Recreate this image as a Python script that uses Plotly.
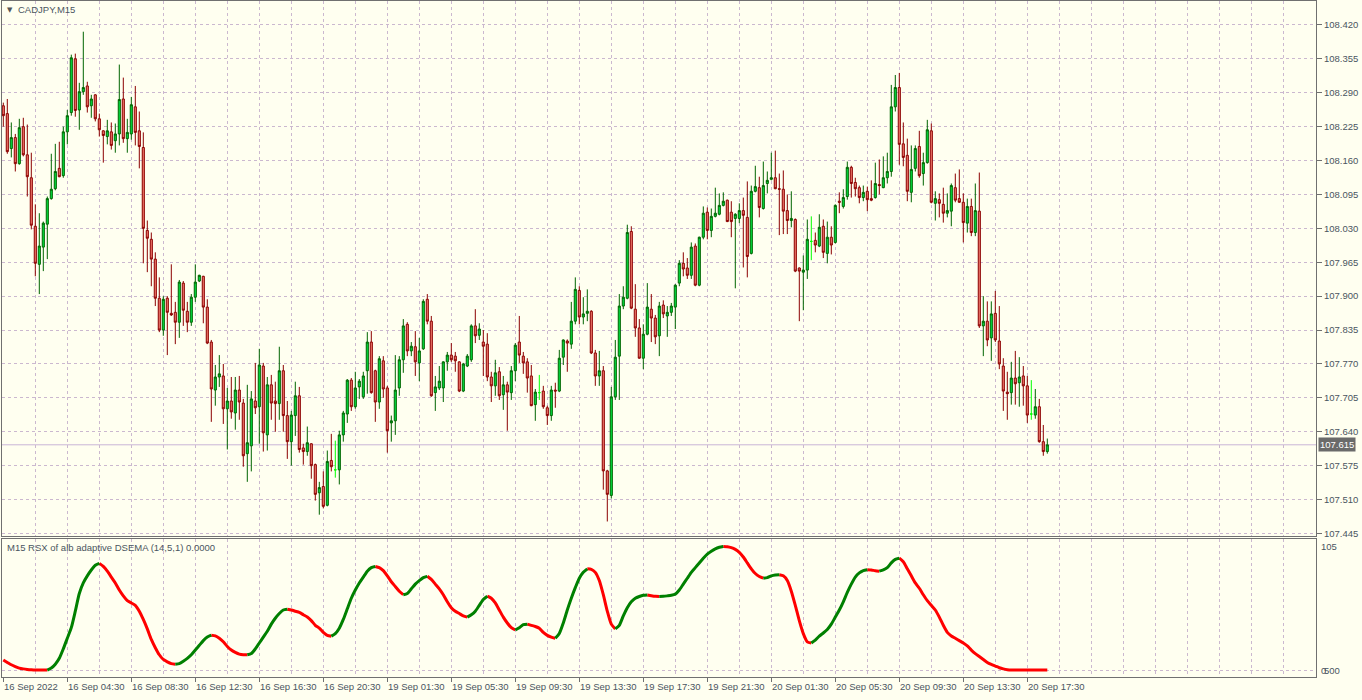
import plotly.graph_objects as go

# ---------------- data ----------------
symbol_title = "CADJPY,M15"
indicator_title = "M15 RSX of alb adaptive DSEMA (14,5,1) 0.0000"

bar_open = [
    108.265, 108.250, 108.183, 108.204, 108.154, 108.225, 108.171, 108.127, 108.034, 107.961,
    107.994, 108.038, 108.087, 108.106, 108.145, 108.131, 108.215, 108.252, 108.355, 108.257,
    108.292, 108.303, 108.265, 108.286, 108.240, 108.217, 108.206, 108.215, 108.198, 108.211,
    108.278, 108.202, 108.211, 108.263, 108.217, 108.185, 108.026, 108.009, 107.971, 107.896,
    107.835, 107.896, 107.867, 107.869, 107.850, 107.925, 107.871, 107.850, 107.898, 107.929,
    107.938, 107.879, 107.812, 107.720, 107.745, 107.747, 107.684, 107.699, 107.676, 107.720,
    107.695, 107.598, 107.613, 107.699, 107.688, 107.766, 107.634, 107.730, 107.699, 107.694,
    107.757, 107.671, 107.621, 107.671, 107.709, 107.609, 107.602, 107.617, 107.577, 107.523,
    107.535, 107.499, 107.585, 107.567, 107.567, 107.634, 107.674, 107.739, 107.688, 107.726,
    107.707, 107.757, 107.812, 107.757, 107.697, 107.776, 107.724, 107.657, 107.661, 107.724,
    107.778, 107.846, 107.795, 107.803, 107.772, 107.799, 107.894, 107.852, 107.715, 107.724,
    107.724, 107.774, 107.787, 107.785, 107.774, 107.718, 107.766, 107.778, 107.843, 107.825,
    107.812, 107.808, 107.745, 107.728, 107.755, 107.711, 107.730, 107.715, 107.757, 107.812,
    107.785, 107.774, 107.747, 107.692, 107.715, 107.718, 107.686, 107.671, 107.720, 107.718,
    107.783, 107.814, 107.808, 107.852, 107.911, 107.860, 107.867, 107.871, 107.791, 107.747,
    107.757, 107.565, 107.518, 107.707, 107.785, 107.881, 107.896, 108.024, 107.875, 107.839,
    107.781, 107.827, 107.875, 107.858, 107.824, 107.883, 107.862, 107.869, 107.879, 107.925,
    107.963, 107.954, 107.940, 107.996, 107.921, 108.013, 108.061, 108.026, 108.053, 108.057,
    108.074, 108.084, 108.061, 108.049, 108.049, 108.064, 108.051, 107.982, 108.101, 108.108,
    108.068, 108.116, 108.124, 108.127, 108.106, 108.105, 108.064, 108.045, 108.047, 107.954,
    107.946, 107.950, 108.005, 108.007, 107.996, 108.034, 107.982, 108.013, 108.003, 108.082,
    108.072, 108.091, 108.147, 108.118, 108.108, 108.089, 108.101, 108.087, 108.089, 108.114,
    108.108, 108.127, 108.139, 108.263, 108.300, 108.192, 108.170, 108.099, 108.145, 108.187,
    108.135, 108.156, 108.217, 108.078, 108.085, 108.076, 108.059, 108.063, 108.108, 108.087,
    108.080, 108.040, 108.072, 108.022, 108.063, 107.843, 107.852, 107.820, 107.867, 107.814,
    107.766, 107.716, 107.715, 107.743, 107.734, 107.747, 107.728, 107.674, 107.672, 107.688,
    107.621, 107.602,
]
bar_high = [
    108.271, 108.278, 108.233, 108.211, 108.240, 108.242, 108.229, 108.175, 108.076, 108.059,
    108.043, 108.091, 108.173, 108.192, 108.196, 108.225, 108.257, 108.363, 108.365, 108.309,
    108.407, 108.311, 108.286, 108.287, 108.250, 108.218, 108.238, 108.233, 108.231, 108.344,
    108.319, 108.240, 108.282, 108.303, 108.254, 108.214, 108.045, 108.022, 107.984, 107.936,
    107.900, 107.900, 107.961, 107.889, 107.931, 107.929, 107.889, 107.904, 107.961, 107.941,
    107.939, 107.894, 107.816, 107.768, 107.787, 107.770, 107.724, 107.745, 107.745, 107.747,
    107.703, 107.730, 107.718, 107.772, 107.799, 107.772, 107.745, 107.749, 107.736, 107.803,
    107.768, 107.699, 107.680, 107.736, 107.726, 107.617, 107.650, 107.618, 107.579, 107.544,
    107.564, 107.604, 107.636, 107.623, 107.642, 107.680, 107.741, 107.743, 107.755, 107.741,
    107.755, 107.831, 107.833, 107.759, 107.785, 107.785, 107.728, 107.671, 107.787, 107.785,
    107.856, 107.850, 107.812, 107.833, 107.820, 107.894, 107.904, 107.862, 107.747, 107.766,
    107.775, 107.793, 107.810, 107.793, 107.775, 107.772, 107.789, 107.846, 107.875, 107.848,
    107.835, 107.829, 107.755, 107.778, 107.764, 107.747, 107.736, 107.766, 107.810, 107.862,
    107.793, 107.781, 107.768, 107.722, 107.749, 107.728, 107.690, 107.728, 107.734, 107.797,
    107.817, 107.817, 107.889, 107.936, 107.919, 107.898, 107.913, 107.873, 107.797, 107.795,
    107.766, 107.567, 107.726, 107.816, 107.904, 107.919, 108.037, 108.034, 107.923, 107.856,
    107.846, 107.925, 107.904, 107.864, 107.889, 107.892, 107.881, 107.887, 107.923, 107.969,
    107.984, 107.973, 108.003, 108.001, 108.014, 108.072, 108.070, 108.068, 108.108, 108.097,
    108.099, 108.085, 108.082, 108.059, 108.078, 108.089, 108.120, 108.112, 108.150, 108.129,
    108.158, 108.139, 108.175, 108.179, 108.135, 108.141, 108.095, 108.101, 108.049, 107.955,
    107.978, 108.047, 108.053, 108.022, 108.057, 108.047, 108.043, 108.034, 108.076, 108.099,
    108.105, 108.158, 108.150, 108.127, 108.112, 108.112, 108.110, 108.122, 108.156, 108.162,
    108.168, 108.175, 108.305, 108.324, 108.328, 108.233, 108.202, 108.189, 108.189, 108.217,
    108.175, 108.238, 108.231, 108.101, 108.097, 108.108, 108.097, 108.116, 108.135, 108.143,
    108.097, 108.087, 108.087, 108.116, 108.137, 107.900, 107.890, 107.890, 107.910, 107.881,
    107.781, 107.755, 107.774, 107.795, 107.783, 107.766, 107.747, 107.739, 107.722, 107.703,
    107.653, 107.627,
]
bar_low = [
    108.225, 108.173, 108.166, 108.139, 108.152, 108.168, 108.091, 108.028, 107.938, 107.904,
    107.948, 107.971, 108.085, 108.103, 108.128, 108.127, 108.191, 108.246, 108.244, 108.219,
    108.286, 108.252, 108.242, 108.235, 108.206, 108.156, 108.191, 108.181, 108.175, 108.189,
    108.194, 108.175, 108.200, 108.189, 108.145, 107.963, 107.946, 107.919, 107.881, 107.831,
    107.824, 107.787, 107.862, 107.808, 107.820, 107.843, 107.831, 107.843, 107.889, 107.927,
    107.848, 107.808, 107.659, 107.690, 107.726, 107.655, 107.606, 107.665, 107.644, 107.663,
    107.573, 107.544, 107.564, 107.674, 107.617, 107.602, 107.604, 107.663, 107.640, 107.663,
    107.640, 107.588, 107.575, 107.632, 107.600, 107.577, 107.594, 107.550, 107.508, 107.481,
    107.493, 107.497, 107.564, 107.552, 107.539, 107.621, 107.657, 107.680, 107.684, 107.703,
    107.703, 107.713, 107.713, 107.659, 107.684, 107.705, 107.600, 107.621, 107.634, 107.709,
    107.753, 107.785, 107.785, 107.747, 107.737, 107.797, 107.846, 107.707, 107.680, 107.720,
    107.697, 107.757, 107.774, 107.755, 107.716, 107.716, 107.764, 107.774, 107.810, 107.816,
    107.747, 107.737, 107.697, 107.709, 107.701, 107.682, 107.642, 107.701, 107.737, 107.772,
    107.751, 107.715, 107.689, 107.661, 107.701, 107.684, 107.653, 107.661, 107.686, 107.716,
    107.768, 107.755, 107.799, 107.846, 107.846, 107.846, 107.852, 107.789, 107.728, 107.728,
    107.529, 107.468, 107.512, 107.701, 107.701, 107.875, 107.894, 107.875, 107.822, 107.780,
    107.760, 107.825, 107.812, 107.808, 107.785, 107.858, 107.822, 107.862, 107.837, 107.919,
    107.938, 107.933, 107.933, 107.919, 107.919, 108.009, 108.009, 108.013, 108.051, 108.055,
    108.072, 108.042, 108.013, 107.915, 108.040, 107.955, 107.936, 107.980, 108.099, 108.051,
    108.066, 108.097, 108.122, 108.105, 108.017, 108.019, 108.019, 108.032, 107.946, 107.852,
    107.873, 107.933, 107.969, 107.984, 107.994, 107.973, 107.963, 107.980, 108.001, 108.059,
    108.068, 108.085, 108.089, 108.091, 108.078, 108.082, 108.063, 108.082, 108.087, 108.095,
    108.107, 108.116, 108.129, 108.254, 108.152, 108.149, 108.082, 108.080, 108.139, 108.127,
    108.112, 108.154, 108.078, 108.045, 108.051, 108.041, 108.051, 108.034, 108.080, 108.079,
    108.003, 108.022, 108.015, 108.015, 107.839, 107.785, 107.804, 107.776, 107.812, 107.760,
    107.680, 107.663, 107.692, 107.692, 107.688, 107.690, 107.657, 107.663, 107.665, 107.619,
    107.594, 107.598,
]
bar_close = [
    108.246, 108.177, 108.204, 108.154, 108.223, 108.171, 108.129, 108.036, 107.963, 107.996,
    108.040, 108.087, 108.105, 108.139, 108.129, 108.215, 108.246, 108.357, 108.256, 108.292,
    108.300, 108.263, 108.278, 108.240, 108.219, 108.208, 108.217, 108.189, 108.211, 108.277,
    108.202, 108.214, 108.267, 108.214, 108.187, 108.030, 108.011, 107.971, 107.896, 107.835,
    107.894, 107.869, 107.864, 107.850, 107.927, 107.873, 107.850, 107.898, 107.927, 107.940,
    107.879, 107.810, 107.722, 107.745, 107.751, 107.684, 107.699, 107.678, 107.720, 107.697,
    107.594, 107.619, 107.703, 107.686, 107.768, 107.638, 107.730, 107.695, 107.694, 107.757,
    107.671, 107.621, 107.672, 107.709, 107.606, 107.602, 107.619, 107.575, 107.520, 107.533,
    107.497, 107.583, 107.573, 107.567, 107.634, 107.676, 107.739, 107.688, 107.724, 107.737,
    107.747, 107.812, 107.715, 107.697, 107.780, 107.722, 107.642, 107.661, 107.720, 107.778,
    107.843, 107.795, 107.804, 107.774, 107.795, 107.890, 107.852, 107.709, 107.726, 107.737,
    107.774, 107.787, 107.778, 107.776, 107.718, 107.770, 107.785, 107.843, 107.824, 107.837,
    107.804, 107.745, 107.728, 107.753, 107.709, 107.730, 107.716, 107.757, 107.806, 107.787,
    107.772, 107.743, 107.690, 107.716, 107.715, 107.688, 107.671, 107.720, 107.718, 107.781,
    107.816, 107.810, 107.852, 107.913, 107.860, 107.866, 107.871, 107.791, 107.747, 107.757,
    107.565, 107.520, 107.707, 107.783, 107.881, 107.898, 108.022, 107.877, 107.839, 107.781,
    107.827, 107.879, 107.858, 107.822, 107.881, 107.866, 107.869, 107.881, 107.921, 107.963,
    107.952, 107.940, 107.994, 107.921, 108.013, 108.059, 108.026, 108.053, 108.059, 108.074,
    108.082, 108.043, 108.043, 108.057, 108.064, 108.055, 107.976, 108.101, 108.110, 108.070,
    108.112, 108.122, 108.127, 108.106, 108.105, 108.063, 108.045, 108.049, 107.948, 107.948,
    107.950, 108.009, 108.005, 107.998, 108.032, 107.984, 108.013, 107.998, 108.074, 108.080,
    108.089, 108.147, 108.116, 108.106, 108.089, 108.099, 108.085, 108.084, 108.116, 108.112,
    108.127, 108.139, 108.263, 108.300, 108.191, 108.166, 108.101, 108.143, 108.183, 108.131,
    108.156, 108.219, 108.080, 108.087, 108.078, 108.059, 108.064, 108.112, 108.084, 108.080,
    108.041, 108.072, 108.022, 108.064, 107.843, 107.852, 107.816, 107.866, 107.816, 107.770,
    107.718, 107.713, 107.743, 107.732, 107.745, 107.728, 107.672, 107.674, 107.688, 107.621,
    107.602, 107.615,
]
rsx_values = [
    8.5, 6.5, 4.5, 3.0, 1.7, 1.0, 0.5, 0.2, 0.0, 0.0,
    0.0, 0.0, 1.7, 5.0, 10.0, 18.0, 27.0, 36.0, 50.0, 65.0,
    74.0, 80.0, 85.0, 89.0, 90.6, 88.0, 84.0, 79.0, 74.0, 68.0,
    63.0, 59.0, 57.0, 55.0, 50.0, 43.0, 35.0, 26.0, 19.0, 13.0,
    9.0, 7.0, 5.5, 5.0, 5.5, 7.5, 10.0, 13.0, 17.0, 21.0,
    25.0, 28.0, 29.6, 29.0, 27.0, 24.0, 20.0, 17.0, 15.0, 13.5,
    13.0, 13.0, 14.0, 18.0, 23.0, 28.0, 33.0, 39.0, 44.0, 48.0,
    51.0, 51.7, 51.0, 50.0, 49.0, 47.0, 45.0, 42.0, 38.0, 35.6,
    32.0, 29.5, 28.8, 31.0, 35.6, 43.0, 52.0, 61.0, 68.0, 74.0,
    79.0, 84.0, 87.0, 88.0, 87.0, 84.5, 80.0, 75.0, 71.0, 67.0,
    64.0, 65.0, 69.0, 73.0, 76.0, 78.5, 79.6, 77.0, 73.0, 69.0,
    64.0, 58.0, 53.0, 50.0, 48.0, 46.0, 45.0, 47.0, 50.0, 55.0,
    60.0, 62.7, 61.0, 57.0, 51.0, 45.0, 40.0, 36.0, 34.0, 36.0,
    38.5, 39.0, 38.0, 37.0, 35.6, 32.0, 29.5, 28.0, 27.0, 31.0,
    40.0, 51.0, 61.0, 70.0, 78.0, 83.0, 86.0, 85.6, 83.0, 76.0,
    64.0, 50.0, 39.0, 35.0, 38.0, 46.0, 53.0, 58.0, 61.0, 62.5,
    63.5, 63.8, 63.2, 62.7, 62.5, 62.6, 63.0, 63.5, 64.5, 68.0,
    73.0, 78.0, 83.0, 87.0, 91.0, 95.0, 98.5, 101.0, 103.0, 104.3,
    105.0, 104.8, 104.0, 102.5, 100.0, 96.0, 91.0, 86.0, 82.0, 79.5,
    78.0, 78.5, 80.0, 80.8, 81.0, 80.0, 76.0, 67.0, 55.0, 42.0,
    31.0, 24.0, 23.0, 25.5, 28.8, 31.5, 34.5, 39.0, 45.0, 51.0,
    58.0, 66.0, 73.0, 79.0, 82.5, 84.5, 85.2, 85.0, 84.3, 84.0,
    85.0, 87.0, 91.0, 94.0, 95.0, 92.0, 86.0, 80.0, 74.0, 69.5,
    64.0, 59.0, 55.0, 51.0, 45.0, 38.0, 32.0, 29.0, 27.0, 25.0,
    23.0, 20.5, 17.0, 14.0, 11.5, 9.0, 6.5, 4.8, 3.4, 2.0,
    1.0, 0.3, 0.0, 0.0, 0.0, 0.0, 0.0, 0.0, 0.0, 0.0,
    0.0, 0.0,
]
time_label_bars = [0, 16, 32, 48, 64, 80, 96, 112, 128, 144, 160, 176, 192, 208, 224, 240, 256]
time_labels = [
    "16 Sep 2022", "16 Sep 04:30", "16 Sep 08:30", "16 Sep 12:30", "16 Sep 16:30",
    "16 Sep 20:30", "19 Sep 01:30", "19 Sep 05:30", "19 Sep 09:30", "19 Sep 13:30",
    "19 Sep 17:30", "19 Sep 21:30", "20 Sep 01:30", "20 Sep 05:30", "20 Sep 09:30",
    "20 Sep 13:30", "20 Sep 17:30",
]
price_tick_labels = [
    "107.445", "107.510", "107.575", "107.640", "107.705", "107.770", "107.835", "107.900",
    "107.965", "108.030", "108.095", "108.160", "108.225", "108.290", "108.355", "108.420",
]
rsx_top_label = "105"
rsx_top_value = 105
rsx_zero_labels = ["0", "500"]

# ---------------- styling ----------------
BG = "#fffff0"
GRID = "#cbb8cf"
FRAME = "#707070"
TXT = "#4a5560"
FONT = "Liberation Sans, Arial, sans-serif"
FS = 9.5
DASH = "3px,3px"

W, H = 1362, 700
X_RANGE = [-0.325, 328.175]
MAIN_DOMAIN = [1 - 538 / H, 1 - 1 / H]
IND_DOMAIN = [1 - 679 / H, 1 - 541 / H]
MAIN_RANGE = [107.43926, 108.46588]
IND_RANGE = [-5.93, 110.92]
grid_bars = list(range(8, 329, 8))

n = len(bar_open)
bars = list(range(n))
doji = [i for i in bars if bar_open[i] == bar_close[i]]
body = [i for i in bars if bar_open[i] != bar_close[i]]

fig = go.Figure()

fig.add_trace(go.Candlestick(
    x=body,
    open=[bar_open[i] for i in body], high=[bar_high[i] for i in body],
    low=[bar_low[i] for i in body], close=[bar_close[i] for i in body],
    increasing=dict(line=dict(color="#006400", width=1), fillcolor="#00e040"),
    decreasing=dict(line=dict(color="#8b0000", width=1), fillcolor="#f07a6c"),
    whiskerwidth=0, hoverinfo="skip", xaxis="x", yaxis="y", showlegend=False,
))
fig.add_trace(go.Candlestick(
    x=doji,
    open=[bar_open[i] for i in doji], high=[bar_high[i] for i in doji],
    low=[bar_low[i] for i in doji], close=[bar_close[i] for i in doji],
    increasing=dict(line=dict(color="#00ff00", width=1), fillcolor="#00ff00"),
    decreasing=dict(line=dict(color="#00ff00", width=1), fillcolor="#00ff00"),
    whiskerwidth=0, hoverinfo="skip", xaxis="x", yaxis="y", showlegend=False,
))

# indicator: split into rising (green) and falling (red) runs
gx, gy, rx, ry = [], [], [], []
i = 0
while i < n - 1:
    rising = rsx_values[i + 1] > rsx_values[i]
    j = i
    while j < n - 1 and (rsx_values[j + 1] > rsx_values[j]) == rising:
        j += 1
    xs = bars[i:j + 1]
    ys = rsx_values[i:j + 1]
    if rising:
        gx += xs + [None]
        gy += ys + [None]
    else:
        rx += xs + [None]
        ry += ys + [None]
    i = j

fig.add_trace(go.Scatter(x=rx, y=ry, mode="lines", line=dict(color="#ff0000", width=3, shape="spline", smoothing=0.6),
                         hoverinfo="skip", xaxis="x2", yaxis="y2", showlegend=False))
fig.add_trace(go.Scatter(x=gx, y=gy, mode="lines", line=dict(color="#008000", width=3, shape="spline", smoothing=0.6),
                         hoverinfo="skip", xaxis="x2", yaxis="y2", showlegend=False))

# current price line and label
last_price = bar_close[-1]
fig.add_shape(type="line", xref="x domain", x0=0, x1=1, yref="y", y0=last_price, y1=last_price,
              line=dict(color="#c9b6d6", width=1), layer="below")

annotations = [
    dict(xref="x domain", x=1, yref="y", y=last_price, xanchor="left", yanchor="middle", xshift=2,
         text="%.3f" % last_price, showarrow=False, bgcolor="#6a6a6a", borderpad=1,
         font=dict(family=FONT, size=FS, color="#ffffff")),
    dict(xref="paper", x=0, yref="paper", y=1 - 10 / H, xanchor="left", yanchor="middle", xshift=3,
         text="▼", showarrow=False, font=dict(family="DejaVu Sans", size=7, color="#555555")),
    dict(xref="paper", x=0, yref="paper", y=1 - 10 / H, xanchor="left", yanchor="middle", xshift=14,
         text=symbol_title, showarrow=False, font=dict(family=FONT, size=FS, color=TXT)),
    dict(xref="paper", x=0, yref="paper", y=1 - 549 / H, xanchor="left", yanchor="middle", xshift=3,
         text=indicator_title, showarrow=False, font=dict(family=FONT, size=FS, color=TXT)),
    dict(xref="x2 domain", x=1, yref="y2", y=rsx_top_value, xanchor="left", yanchor="middle", xshift=3,
         text=rsx_top_label, showarrow=False, font=dict(family=FONT, size=FS, color=TXT)),
    dict(xref="x2 domain", x=1, yref="y2", y=0, xanchor="left", yanchor="middle", xshift=3,
         text=rsx_zero_labels[0], showarrow=False, font=dict(family=FONT, size=FS, color=TXT)),
    dict(xref="x2 domain", x=1, yref="y2", y=0, xanchor="left", yanchor="middle", xshift=6,
         text=rsx_zero_labels[1], showarrow=False, font=dict(family=FONT, size=FS, color=TXT)),
]
for b, t in zip(time_label_bars, time_labels):
    annotations.append(dict(xref="x2", x=b, yref="paper", y=1 - 688 / H, xanchor="left", yanchor="middle",
                            xshift=-1, text=t, showarrow=False, font=dict(family=FONT, size=FS, color=TXT)))

fig.update_layout(
    width=W, height=H,
    margin=dict(l=2, r=46, t=0, b=0),
    paper_bgcolor=BG, plot_bgcolor=BG,
    showlegend=False, boxgap=0.25, hovermode=False,
    annotations=annotations,
    xaxis=dict(domain=[0, 1], range=X_RANGE, anchor="y", tickmode="array", tickvals=grid_bars,
               showticklabels=False, ticks="", showgrid=True, gridcolor=GRID, griddash=DASH, gridwidth=1,
               zeroline=False, showline=True, mirror=True, linecolor=FRAME, linewidth=1,
               rangeslider=dict(visible=False), fixedrange=True),
    yaxis=dict(domain=MAIN_DOMAIN, range=MAIN_RANGE, anchor="x", side="right", tickmode="array",
               tickvals=[float(s) for s in price_tick_labels], ticktext=price_tick_labels,
               ticks="outside", ticklen=5, tickcolor=FRAME, tickfont=dict(family=FONT, size=FS, color=TXT),
               showgrid=True, gridcolor=GRID, griddash=DASH, gridwidth=1, zeroline=False,
               showline=True, mirror=True, linecolor=FRAME, linewidth=1, fixedrange=True),
    xaxis2=dict(domain=[0, 1], range=X_RANGE, anchor="y2", tickmode="array", tickvals=time_label_bars,
                showticklabels=False, ticks="outside", ticklen=4, tickcolor=FRAME, showgrid=False,
                minor=dict(tickmode="array", tickvals=grid_bars, showgrid=True, gridcolor=GRID,
                           griddash=DASH, gridwidth=1, ticks="inside", ticklen=0),
                zeroline=False, showline=True, mirror=True, linecolor=FRAME, linewidth=1,
                rangeslider=dict(visible=False), fixedrange=True),
    yaxis2=dict(domain=IND_DOMAIN, range=IND_RANGE, anchor="x2", side="right", tickmode="array",
                tickvals=[0], showticklabels=False, ticks="", showgrid=True, gridcolor=GRID,
                griddash=DASH, gridwidth=1, zeroline=False, showline=True, mirror=True,
                linecolor=FRAME, linewidth=1, fixedrange=True),
)

fig.write_html(
    "out.html",
    config={"displayModeBar": False, "staticPlot": True},
    post_script="document.body.style.margin='0px';document.body.style.padding='0px';"
                "document.body.style.overflow='hidden';document.body.style.background='%s';" % BG,
)
